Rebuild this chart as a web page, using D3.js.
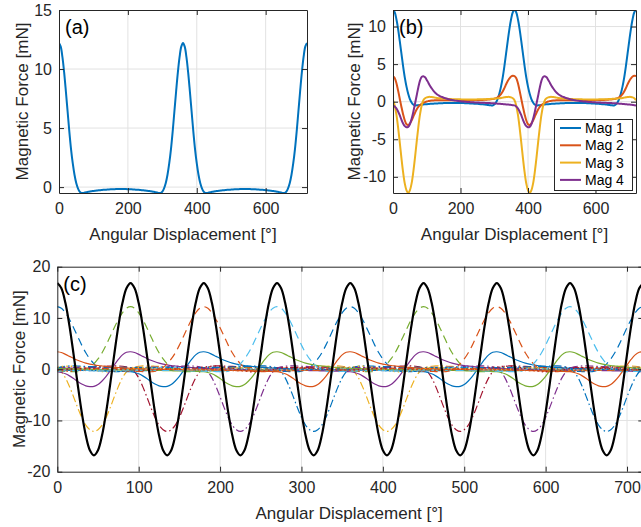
<!DOCTYPE html>
<html><head><meta charset="utf-8">
<script src="https://cdn.jsdelivr.net/npm/d3@7"></script>
<style>
html,body{margin:0;padding:0;background:#fff;}
svg{display:block;font-family:"Liberation Sans",Arial,Helvetica,sans-serif;}
</style></head>
<body>
<svg id="chart" width="641" height="527"></svg>
<script>
// ---------- data (5° sampling over one 360° period) ----------
const sampleStep = 5;
const mag1 = [
  12.2, 11.9, 11.0, 9.7, 8.1, 6.4, 4.7, 3.2, 2.0,
  1.05, 0.35, -0.1, -0.38, -0.5, -0.49, -0.46, -0.43, -0.4,
  -0.37, -0.35, -0.33, -0.31, -0.29, -0.27, -0.26, -0.24, -0.23,
  -0.22, -0.21, -0.2, -0.19, -0.18, -0.18, -0.17, -0.17, -0.16,
  -0.16, -0.16, -0.17, -0.17, -0.18, -0.18, -0.19, -0.2, -0.21,
  -0.22, -0.23, -0.24, -0.26, -0.27, -0.29, -0.31, -0.33, -0.35,
  -0.37, -0.4, -0.43, -0.46, -0.49, -0.5, -0.38, -0.1, 0.35,
  1.05, 2.0, 3.2, 4.7, 6.4, 8.1, 9.7, 11.0, 11.9
];
const mag2 = [
  3.4, 3.15, 2.5, 1.5, 0.4, -0.7, -1.7, -2.5, -3.0,
  -3.1, -2.9, -2.5, -2.0, -1.5, -1.05, -0.7, -0.45, -0.28,
  -0.15, -0.05, 0.03, 0.08, 0.12, 0.15, 0.17, 0.18, 0.19,
  0.2, 0.2, 0.2, 0.2, 0.2, 0.2, 0.2, 0.2, 0.2,
  0.2, 0.2, 0.2, 0.2, 0.2, 0.2, 0.2, 0.2, 0.2,
  0.2, 0.2, 0.2, 0.21, 0.21, 0.22, 0.22, 0.23, 0.24,
  0.25, 0.26, 0.28, 0.3, 0.32, 0.35, 0.4, 0.47, 0.58,
  0.75, 1.0, 1.35, 1.8, 2.3, 2.75, 3.1, 3.35, 3.45
];
const mag3 = [
  0.2, -0.5, -1.7, -3.4, -5.4, -7.5, -9.4, -10.9, -11.8,
  -12.15, -11.8, -10.9, -9.4, -7.5, -5.4, -3.4, -1.7, -0.5,
  0.2, 0.45, 0.58, 0.63, 0.64, 0.62, 0.58, 0.54, 0.5,
  0.47, 0.45, 0.43, 0.41, 0.39, 0.38, 0.36, 0.35, 0.34,
  0.33, 0.32, 0.32, 0.31, 0.31, 0.3, 0.3, 0.3, 0.3,
  0.3, 0.3, 0.3, 0.3, 0.3, 0.31, 0.31, 0.32, 0.32,
  0.33, 0.34, 0.35, 0.36, 0.38, 0.39, 0.41, 0.43, 0.45,
  0.47, 0.5, 0.54, 0.58, 0.62, 0.64, 0.63, 0.58, 0.45
];
const mag4 = [
  -0.5, -0.65, -0.9, -1.3, -1.8, -2.4, -2.9, -3.25, -3.4,
  -3.35, -3.0, -2.3, -1.4, -0.3, 0.8, 1.9, 2.8, 3.3,
  3.4, 3.25, 2.9, 2.5, 2.1, 1.75, 1.45, 1.2, 1.0,
  0.85, 0.72, 0.62, 0.53, 0.45, 0.38, 0.32, 0.27, 0.22,
  0.18, 0.14, 0.11, 0.08, 0.05, 0.03, 0.01, -0.01, -0.03,
  -0.05, -0.06, -0.08, -0.09, -0.1, -0.11, -0.12, -0.13, -0.14,
  -0.15, -0.16, -0.17, -0.18, -0.2, -0.21, -0.22, -0.24, -0.26,
  -0.28, -0.3, -0.32, -0.34, -0.36, -0.38, -0.4, -0.43, -0.46
];
// small near-zero forces in panel (c), 15° sampling
const minorStep = 15;
const minorA = [0.4, 0.6, 0.3, -0.2, -0.5, -0.3, 0.1, 0.3, 0.2, 0.1, 0.0, -0.1, -0.1, 0.0, 0.1, 0.2, 0.1, 0.0, -0.1, -0.2, -0.1, 0.0, 0.1, 0.2];
const minorB = [-0.3, -0.1, 0.2, 0.5, 0.3, 0.0, -0.2, -0.4, -0.2, 0.0, 0.1, 0.1, 0.0, -0.1, -0.1, 0.0, 0.1, 0.1, 0.0, -0.1, -0.2, -0.3, -0.4, -0.4];
const minorC = [0.1, 0.15, 0.1, 0.0, -0.1, -0.15, -0.1, 0.0, 0.1, 0.15, 0.1, 0.0, -0.05, -0.1, -0.05, 0.0, 0.05, 0.1, 0.05, 0.0, -0.05, -0.1, -0.05, 0.0];
// total force (black), 5° steps over 0..720
const totalForce = [
  16.8, 15.8, 12.9, 8.4, 2.9, -2.9, -8.4, -12.9, -15.8, -16.8, -15.8, -12.9, -8.4, -2.9, 2.9, 8.4, 12.9, 15.8,
  16.8, 15.8, 12.9, 8.4, 2.9, -2.9, -8.4, -12.9, -15.8, -16.8, -15.8, -12.9, -8.4, -2.9, 2.9, 8.4, 12.9, 15.8,
  16.8, 15.8, 12.9, 8.4, 2.9, -2.9, -8.4, -12.9, -15.8, -16.8, -15.8, -12.9, -8.4, -2.9, 2.9, 8.4, 12.9, 15.8,
  16.8, 15.8, 12.9, 8.4, 2.9, -2.9, -8.4, -12.9, -15.8, -16.8, -15.8, -12.9, -8.4, -2.9, 2.9, 8.4, 12.9, 15.8,
  16.8, 15.8, 12.9, 8.4, 2.9, -2.9, -8.4, -12.9, -15.8, -16.8, -15.8, -12.9, -8.4, -2.9, 2.9, 8.4, 12.9, 15.8,
  16.8, 15.8, 12.9, 8.4, 2.9, -2.9, -8.4, -12.9, -15.8, -16.8, -15.8, -12.9, -8.4, -2.9, 2.9, 8.4, 12.9, 15.8,
  16.8, 15.8, 12.9, 8.4, 2.9, -2.9, -8.4, -12.9, -15.8, -16.8, -15.8, -12.9, -8.4, -2.9, 2.9, 8.4, 12.9, 15.8,
  16.8, 15.8, 12.9, 8.4, 2.9, -2.9, -8.4, -12.9, -15.8, -16.8, -15.8, -12.9, -8.4, -2.9, 2.9, 8.4, 12.9, 15.8,
  16.8
];
const phaseShifts = [0, 90, 180, 270];
const legendLabels = ["Mag 1", "Mag 2", "Mag 3", "Mag 4"];
const xTicksAB = [0, 200, 400, 600];
const xTicksC = [0, 100, 200, 300, 400, 500, 600, 700];
const yTicksA = [0, 5, 10, 15];
const yTicksB = [-10, -5, 0, 5, 10];
const yTicksC = [-20, -10, 0, 10, 20];
const xLabel = "Angular Displacement [°]";
const yLabel = "Magnetic Force [mN]";

// ---------- styles ----------
const C = {blue:"#0072BD", orange:"#D95319", yellow:"#EDB120", purple:"#7E2F8E", green:"#77AC30", lblue:"#4DBEEE", red:"#A2142F"};
const axisColor = "#262626", gridColor = "#e2e2e2";

const svg = d3.select("#chart");

function periodicSeries(arr, step, shift) {
  const n = arr.length, pts = [];
  for (let d = 0; d <= 720; d += step) {
    let a = (((d - shift) % 360) + 360) % 360;
    pts.push([d, arr[Math.round(a / step) % n]]);
  }
  return pts;
}

let clipId = 0;
function makePanel(o) {
  const x = d3.scaleLinear().domain([0, 720]).range([o.x0, o.x1]);
  const y = d3.scaleLinear().domain(o.yDomain).range([o.y1, o.y0]);
  const g = svg.append("g");
  // grid
  g.append("g").selectAll("line.v").data(o.xTicks.filter(t => t > 0)).join("line")
    .attr("x1", d => x(d)).attr("x2", d => x(d)).attr("y1", o.y0).attr("y2", o.y1)
    .attr("stroke", gridColor).attr("stroke-width", 1);
  g.append("g").selectAll("line.h").data(o.yTicks.filter(t => y(t) > o.y0 + 1 && y(t) < o.y1 - 1)).join("line")
    .attr("y1", d => y(d)).attr("y2", d => y(d)).attr("x1", o.x0).attr("x2", o.x1)
    .attr("stroke", gridColor).attr("stroke-width", 1);
  const id = "clip" + (clipId++);
  svg.append("clipPath").attr("id", id).append("rect")
    .attr("x", o.x0).attr("y", o.y0).attr("width", o.x1 - o.x0).attr("height", o.y1 - o.y0);
  const plot = g.append("g").attr("clip-path", `url(#${id})`);
  // axes via d3 axes
  const tl = 5;
  const xa = g.append("g").attr("transform", `translate(0,${o.y1})`)
    .call(d3.axisBottom(x).tickValues(o.xTicks).tickSizeInner(-tl).tickSizeOuter(0).tickPadding(10));
  const xt = g.append("g").attr("transform", `translate(0,${o.y0})`)
    .call(d3.axisTop(x).tickValues(o.xTicks).tickSizeInner(-tl).tickSizeOuter(0).tickFormat(""));
  const ya = g.append("g").attr("transform", `translate(${o.x0},0)`)
    .call(d3.axisLeft(y).tickValues(o.yTicks).tickSizeInner(-tl).tickSizeOuter(0).tickPadding(7));
  const yr = g.append("g").attr("transform", `translate(${o.x1},0)`)
    .call(d3.axisRight(y).tickValues(o.yTicks).tickSizeInner(-tl).tickSizeOuter(0).tickFormat(""));
  [xa, xt, ya, yr].forEach(a => {
    a.select(".domain").attr("stroke", axisColor);
    a.selectAll(".tick line").attr("stroke", axisColor);
    a.selectAll(".tick text").attr("fill", axisColor).attr("font-size", 16)
      .attr("font-family", '"Liberation Sans",Arial,sans-serif');
  });
  ya.selectAll(".tick text").text(d => d < 0 ? "-" + Math.abs(d) : d);
  // labels
  svg.append("text").attr("x", (o.x0 + Math.min(o.x1, 641)) / 2 + (o.xlabDx || 0)).attr("y", o.xlabY)
    .attr("text-anchor", "middle").attr("font-size", 17).attr("fill", axisColor).text(xLabel);
  svg.append("text").attr("transform", `translate(${o.ylabX},${(o.y0 + o.y1) / 2}) rotate(-90)`)
    .attr("text-anchor", "middle").attr("font-size", 17).attr("fill", axisColor).text(yLabel);
  svg.append("text").attr("x", o.x0 + 6).attr("y", o.y0 + 24)
    .attr("font-size", 20).attr("fill", "#000").text(o.tag);
  return {x, y, plot};
}

const line = (x, y) => d3.line().x(d => x(d[0])).y(d => y(d[1])).curve(d3.curveCatmullRom.alpha(0.5));

// ---------- panel (a) ----------
const A = makePanel({x0: 59, x1: 307, y0: 10, y1: 193, yDomain: [-0.5, 15], xTicks: xTicksAB, yTicks: yTicksA,
  xlabY: 240, ylabX: 28, tag: "(a)"});
A.plot.append("path").datum(periodicSeries(mag1, sampleStep, 0)).attr("d", line(A.x, A.y))
  .attr("fill", "none").attr("stroke", C.blue).attr("stroke-width", 2);

// ---------- panel (b) ----------
const B = makePanel({x0: 393, x1: 636, y0: 10, y1: 193, yDomain: [-12.15, 12.2], xTicks: xTicksAB, yTicks: yTicksB,
  xlabY: 240, ylabX: 360, tag: "(b)"});
const bSeries = [mag1, mag2, mag3, mag4];
const bColors = [C.blue, C.orange, C.yellow, C.purple];
bSeries.forEach((arr, i) => {
  B.plot.append("path").datum(periodicSeries(arr, sampleStep, 0)).attr("d", line(B.x, B.y))
    .attr("fill", "none").attr("stroke", bColors[i]).attr("stroke-width", 2);
});
// legend
const lg = svg.append("g");
lg.append("rect").attr("x", 554.5).attr("y", 119.5).attr("width", 78).attr("height", 71)
  .attr("fill", "#fff").attr("stroke", axisColor).attr("stroke-width", 1);
legendLabels.forEach((lab, i) => {
  const yy = 128 + i * 17.3;
  lg.append("line").attr("x1", 560).attr("x2", 581).attr("y1", yy).attr("y2", yy)
    .attr("stroke", bColors[i]).attr("stroke-width", 2);
  lg.append("text").attr("x", 585).attr("y", yy + 5).attr("font-size", 14).attr("fill", "#000").text(lab);
});

// ---------- panel (c) ----------
const Cp = makePanel({x0: 57.3, x1: 643.3, y0: 266.7, y1: 471.7, yDomain: [-20, 20], xTicks: xTicksC, yTicks: yTicksC,
  xlabY: 519, xlabDx: 0, ylabX: 25, tag: "(c)"});
const cDefs = [];
const mag1Colors = [C.blue, C.green, C.orange, C.lblue];
const mag3Colors = [C.yellow, C.red, C.purple, C.blue];
const mag4Colors = [C.purple, C.blue, C.green, C.orange];
const dotColors = [C.yellow, C.lblue, C.red, C.orange];
const dashSmallColors = [C.purple, C.green, C.blue, C.orange];
phaseShifts.forEach((s, k) => {
  cDefs.push({arr: minorC, step: minorStep, shift: s, color: dashSmallColors[k], dash: "6,3", w: 2});
});
phaseShifts.forEach((s, k) => {
  cDefs.push({arr: mag1, step: sampleStep, shift: s, color: mag1Colors[k], dash: "8,5", w: 1.2});
  cDefs.push({arr: mag3, step: sampleStep, shift: s, color: mag3Colors[k], dash: "8,3,1.5,3", w: 1.2});
  cDefs.push({arr: mag4, step: sampleStep, shift: s, color: mag4Colors[k], dash: null, w: 1.2});
});
phaseShifts.forEach((s, k) => {
  cDefs.push({arr: k % 2 ? minorB : minorA, step: minorStep, shift: s, color: dotColors[k], dash: "1.5,3", w: 1.5});
});
cDefs.forEach(d => {
  const p = Cp.plot.append("path").datum(periodicSeries(d.arr, d.step, d.shift)).attr("d", line(Cp.x, Cp.y))
    .attr("fill", "none").attr("stroke", d.color).attr("stroke-width", d.w);
  if (d.dash) p.attr("stroke-dasharray", d.dash);
});
Cp.plot.append("path").datum(totalForce.map((v, i) => [i * sampleStep, v])).attr("d", line(Cp.x, Cp.y))
  .attr("fill", "none").attr("stroke", "#000").attr("stroke-width", 2.2);
</script>
</body></html>
